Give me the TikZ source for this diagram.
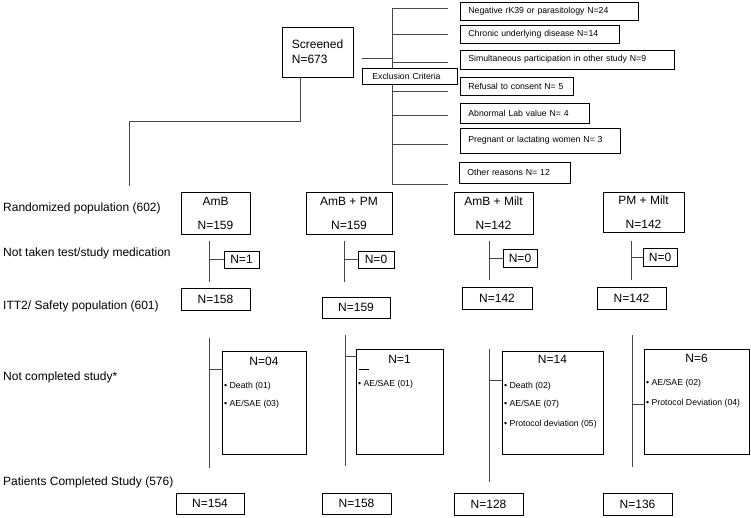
\documentclass[tikz,border=0pt]{standalone}
\usepackage{fontspec}
\setmainfont{Liberation Sans}
\tikzset{
  box/.style={draw=black, line width=0.8pt, inner sep=0pt, fill=white, align=center, font=\fontsize{12}{24}\selectfont},
  exbox/.style={draw=black, line width=0.8pt, inner xsep=8pt, inner ysep=0pt, align=left, anchor=west, font=\fontsize{8.7}{10}\selectfont},
  conn/.style={draw=black!72, line width=1pt},
  lbl/.style={anchor=west, inner sep=0pt, font=\fontsize{12}{14}\selectfont},
  ttl/.style={inner sep=0pt, font=\fontsize{12}{14}\selectfont},
  bul/.style={anchor=west, inner sep=0pt, font=\fontsize{8.7}{10}\selectfont},
}
\newcommand\rbox[7]{\node[#1, minimum width={(#5-#3)*1pt}, minimum height={(#6-#4)*1pt}] (#2) at ({(#3+#5)/2},{(#4+#6)/2}) {#7};}
\begin{document}
\begin{tikzpicture}[x=1pt, y=-1pt]
\useasboundingbox (0,0) rectangle (751,517);

% ---------- screening ----------
\node[draw=black, line width=0.8pt, anchor=west, align=left, text width=52pt, inner xsep=9.5pt, inner ysep=0pt,
      minimum height=50pt, font=\fontsize{12}{15}\selectfont] (scr) at (282,52) {Screened\\N=673};
\coordinate (s1) at (300,121);
\coordinate (s2) at (129,121);
\coordinate (s3) at (129,186);
\draw[conn] (scr.south -| s1) -- (s1) -- (s2) -- (s3);

% exclusion trunk
\coordinate (sc) at (362,58);
\coordinate (tr) at (392,58);
\draw[conn] (sc) -- (tr);
\coordinate (xt) at (392,8);
\coordinate (xb) at (392,184);
\draw[conn] (xt) -- (xb);
\foreach \yy [count=\i] in {8,34,62,91,115,144,184}{
  \coordinate (bA\i) at (392,\yy);
  \coordinate (bB\i) at (448,\yy);
  \draw[conn] (bA\i) -- (bB\i);
}

\node[exbox, text width=162pt, minimum height=18pt] (e1) at (460,11) {Negative rK39 or parasitology N=24};
\node[exbox, text width=143pt, minimum height=18pt] (e2) at (460,34) {Chronic underlying disease N=14};
\node[exbox, text width=198pt, minimum height=19pt] (e3) at (460,59.5) {Simultaneous participation in other study N=9};
\node[exbox, text width=97pt, minimum height=18pt] (e4) at (460,86) {Refusal to consent N= 5};
\node[exbox, text width=113pt, minimum height=20pt] (e5) at (460,113) {Abnormal Lab value N= 4};
\node[exbox, text width=144pt, minimum height=25pt] (e6) at (460,140.5) {Pregnant or lactating women N= 3};
\node[exbox, text width=95pt, minimum height=21pt] (e7) at (459,172.5) {Other reasons N= 12};

\node[exbox, fill=white, text width=75pt, inner xsep=10pt, minimum height=16pt] (exc) at (362,76) {Exclusion Criteria};

% ---------- row labels ----------
\node[lbl] (l1) at (3,208) {Randomized population (602)};
\node[lbl] (l2) at (3,253) {Not taken test/study medication};
\node[lbl] (l3) at (3,306) {ITT2/ Safety population (601)};
\node[lbl] (l4) at (3,377) {Not completed study*};
\node[lbl] (l5) at (3,482) {Patients Completed Study (576)};

% ---------- randomized ----------
\rbox{box}{r1}{181}{192}{250}{234}{AmB\\N=159}
\rbox{box}{r2}{306}{192}{392}{234}{AmB + PM\\N=159}
\rbox{box}{r3}{454}{192}{533}{234}{AmB + Milt\\N=142}
\rbox{box}{r4}{603}{192}{684}{232}{PM + Milt\\N=142}

% ---------- not taken ----------
\rbox{box}{n1}{224}{251}{259}{268}{N=1}
\rbox{box}{n2}{358}{251}{394}{268}{N=0}
\rbox{box}{n3}{503}{249}{537}{267}{N=0}
\rbox{box}{n4}{643}{248}{677}{266}{N=0}

\coordinate (va1) at (209,241); \coordinate (vb1) at (209,282);
\coordinate (va2) at (344,241); \coordinate (vb2) at (344,282);
\coordinate (va3) at (489,241); \coordinate (vb3) at (489,280);
\coordinate (va4) at (631,241); \coordinate (vb4) at (631,280);
\foreach \i in {1,2,3,4}{
  \draw[conn] (va\i) -- (vb\i);
  \draw[conn] (n\i.west -| va\i) -- (n\i.west);
}

% ---------- ITT ----------
\rbox{box}{i1}{181}{288}{250}{310}{N=158}
\rbox{box}{i2}{322}{297}{390}{318}{N=159}
\rbox{box}{i3}{462}{287}{532}{309}{N=142}
\rbox{box}{i4}{597}{287}{666}{309}{N=142}

% ---------- not completed ----------
\rbox{box}{c1}{222}{351}{306}{454}{}
\rbox{box}{c2}{356}{349}{443}{454}{}
\rbox{box}{c3}{502}{351}{603}{454}{}
\rbox{box}{c4}{644}{349}{749}{454}{}

\coordinate (ta1) at (209,338); \coordinate (tb1) at (209,468); \coordinate (tm1) at (209,369);
\coordinate (ta2) at (345,335); \coordinate (tb2) at (345,466); \coordinate (tm2) at (345,356);
\coordinate (ta3) at (489,349); \coordinate (tb3) at (489,482); \coordinate (tm3) at (489,380);
\coordinate (ta4) at (632,335); \coordinate (tb4) at (632,467); \coordinate (tm4) at (632,404);
\foreach \i in {1,2,3,4}{
  \draw[conn] (ta\i) -- (tb\i);
  \draw[conn] (tm\i) -- (tm\i -| c\i.west);
}

\node[ttl] (c1t) at (264,361) {N=04};
\node[bul] (c1a) at (224,386) {\textbullet\ Death (01)};
\node[bul] (c1b) at (224,404) {\textbullet\ AE/SAE (03)};

\node[ttl] (c2t) at (399.5,359) {N=1};
\coordinate (d1) at (359,369); \coordinate (d2) at (369,369);
\draw[black, line width=0.8pt] (d1) -- (d2);
\node[bul] (c2a) at (358,384) {\textbullet\ AE/SAE (01)};

\node[ttl] (c3t) at (552.5,359) {N=14};
\node[bul] (c3a) at (504,386) {\textbullet\ Death (02)};
\node[bul] (c3b) at (504,404) {\textbullet\ AE/SAE (07)};
\node[bul] (c3c) at (504,424) {\textbullet\ Protocol deviation (05)};

\node[ttl] (c4t) at (696.5,358) {N=6};
\node[bul] (c4a) at (646,383) {\textbullet\ AE/SAE (02)};
\node[bul] (c4b) at (646,403) {\textbullet\ Protocol Deviation (04)};

% ---------- completed ----------
\rbox{box}{f1}{176}{493}{244}{514}{N=154}
\rbox{box}{f2}{322}{493}{391}{514}{N=158}
\rbox{box}{f3}{454}{493}{523}{515}{N=128}
\rbox{box}{f4}{603}{493}{672}{515}{N=136}
\end{tikzpicture}
\end{document}
